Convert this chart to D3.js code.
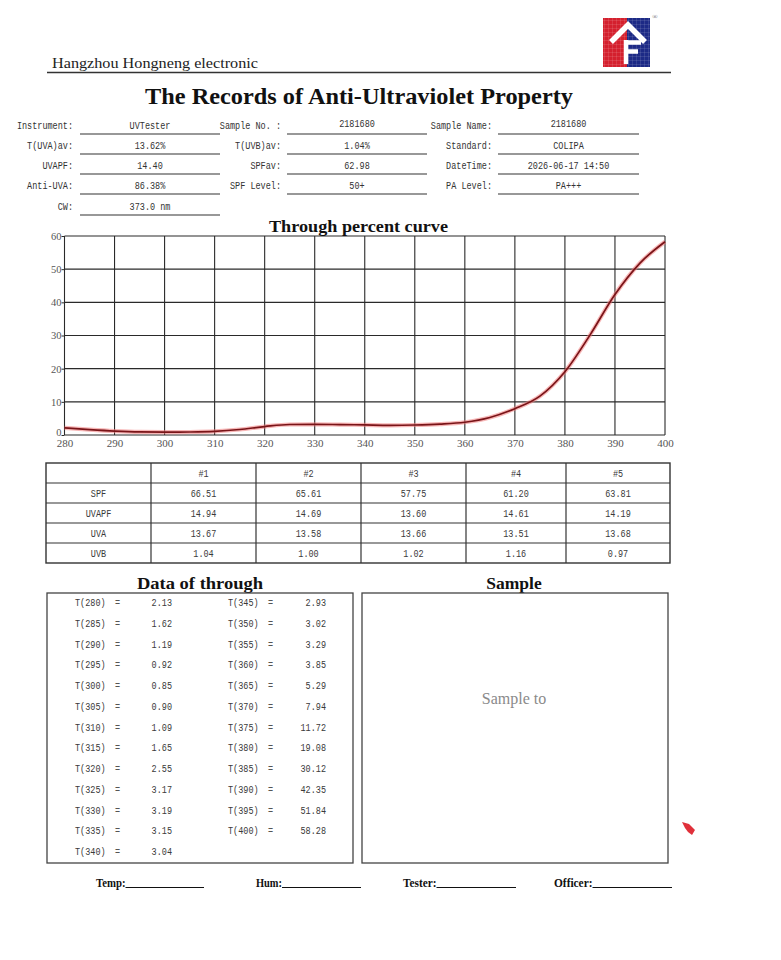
<!DOCTYPE html>
<html>
<head>
<meta charset="utf-8">
<script src="https://cdn.jsdelivr.net/npm/d3@7"></script>
<style>
  html, body { margin: 0; padding: 0; background: #fff; }
  svg { display: block; }
</style>
</head>
<body>
<svg id="page" width="781" height="960"></svg>
<script>
// ---------------- DATA ----------------
const companyName = "Hangzhou Hongneng electronic";
const reportTitle = "The Records of Anti-Ultraviolet Property";
const chartTitle = "Through percent curve";

const infoLabelsCol1 = ["Instrument:", "T(UVA)av:", "UVAPF:", "Anti-UVA:", "CW:"];
const infoValuesCol1 = ["UVTester", "13.62%", "14.40", "86.38%", "373.0 nm"];
const infoLabelsCol2 = ["Sample No. :", "T(UVB)av:", "SPFav:", "SPF Level:"];
const infoValuesCol2 = ["2181680", "1.04%", "62.98", "50+"];
const infoLabelsCol3 = ["Sample Name:", "Standard:", "DateTime:", "PA Level:"];
const infoValuesCol3 = ["2181680", "COLIPA", "2026-06-17 14:50", "PA+++"];

const wavelengths = [280, 285, 290, 295, 300, 305, 310, 315, 320, 325, 330, 335, 340,
                     345, 350, 355, 360, 365, 370, 375, 380, 385, 390, 395, 400];
const transmittance = [2.13, 1.62, 1.19, 0.92, 0.85, 0.90, 1.09, 1.65, 2.55, 3.17, 3.19, 3.15, 3.04,
                       2.93, 3.02, 3.29, 3.85, 5.29, 7.94, 11.72, 19.08, 30.12, 42.35, 51.84, 58.28];
const xTickValues = [280, 290, 300, 310, 320, 330, 340, 350, 360, 370, 380, 390, 400];
const yTickValues = [0, 10, 20, 30, 40, 50, 60];

const testRuns = ["#1", "#2", "#3", "#4", "#5"];
const metricNames = ["SPF", "UVAPF", "UVA", "UVB"];
const spfValues   = ["66.51", "65.61", "57.75", "61.20", "63.81"];
const uvapfValues = ["14.94", "14.69", "13.60", "14.61", "14.19"];
const uvaValues   = ["13.67", "13.58", "13.66", "13.51", "13.68"];
const uvbValues   = ["1.04", "1.00", "1.02", "1.16", "0.97"];

const footerLabels = ["Temp:", "Hum:", "Tester:", "Officer:"];

// ---------------- DRAWING ----------------
const svg = d3.select("#page");
const serif = "'Liberation Serif', 'Times New Roman', serif";
const mono = "'Liberation Mono', 'DejaVu Sans Mono', monospace";

function monoText(g, x, y, str, anchor, opts = {}) {
  const t = g.append("text")
    .attr("x", x).attr("y", y)
    .attr("font-family", mono)
    .attr("font-size", opts.size || 11)
    .attr("fill", opts.fill || "#333")
    .attr("text-anchor", anchor)
    .text(str);
  t.attr("textLength", str.length * (opts.adv || 5.1)).attr("lengthAdjust", "spacingAndGlyphs");
  return t;
}

// Header
svg.append("text").attr("x", 52).attr("y", 68)
  .attr("font-family", serif).attr("font-size", 15.5).attr("fill", "#222")
  .attr("textLength", 206).attr("lengthAdjust", "spacingAndGlyphs")
  .text(companyName);
svg.append("line").attr("x1", 47).attr("x2", 671).attr("y1", 72.5).attr("y2", 72.5)
  .attr("stroke", "#333").attr("stroke-width", 1.4);

// Logo
const logo = svg.append("g");
const defs = svg.append("defs");
const pat = defs.append("pattern").attr("id", "gridpat").attr("width", 4).attr("height", 4)
  .attr("patternUnits", "userSpaceOnUse");
pat.append("path").attr("d", "M4,0 L0,0 L0,4").attr("fill", "none")
  .attr("stroke", "rgba(255,255,255,0.35)").attr("stroke-width", 0.6);
logo.append("rect").attr("x", 603).attr("y", 18).attr("width", 24).attr("height", 49).attr("fill", "#d4202e");
logo.append("rect").attr("x", 627).attr("y", 18).attr("width", 23).attr("height", 49).attr("fill", "#1d2a86");
logo.append("rect").attr("x", 603).attr("y", 18).attr("width", 47).attr("height", 49).attr("fill", "url(#gridpat)");
logo.append("path").attr("d", "M611,42 L628,25 L645,42")
  .attr("fill", "none").attr("stroke", "#fff").attr("stroke-width", 5.5).attr("stroke-linejoin", "miter");
logo.append("path").attr("d", "M626,40 L626,64 M626,42.5 L641,42.5 M626,51.5 L638,51.5")
  .attr("fill", "none").attr("stroke", "#fff").attr("stroke-width", 4.5);
svg.append("text").attr("x", 655).attr("y", 19).attr("font-family", serif)
  .attr("font-size", 7).attr("fill", "#666").attr("text-anchor", "middle").text("®");

// Title
svg.append("text").attr("x", 359).attr("y", 104)
  .attr("font-family", serif).attr("font-weight", "bold").attr("font-size", 24).attr("fill", "#111")
  .attr("text-anchor", "middle").attr("textLength", 428).attr("lengthAdjust", "spacingAndGlyphs")
  .text(reportTitle);

// Info block
const infoG = svg.append("g");
const rowBase = [129, 149, 169, 189, 210];
const rowLine = [134, 154, 174, 194, 215];
const cols = [
  { labels: infoLabelsCol1, values: infoValuesCol1, labelRight: 73, lx1: 80, lx2: 220 },
  { labels: infoLabelsCol2, values: infoValuesCol2, labelRight: 281, lx1: 287, lx2: 427 },
  { labels: infoLabelsCol3, values: infoValuesCol3, labelRight: 492, lx1: 498, lx2: 639 }
];
cols.forEach((c, ci) => {
  c.labels.forEach((lab, i) => {
    monoText(infoG, c.labelRight, rowBase[i], lab, "end", { fill: "#333" });
    const vy = (i === 0 && ci > 0) ? rowBase[i] - 2.5 : rowBase[i];
    monoText(infoG, (c.lx1 + c.lx2) / 2, vy, c.values[i], "middle", { fill: "#333" });
    infoG.append("line").attr("x1", c.lx1).attr("x2", c.lx2)
      .attr("y1", rowLine[i]).attr("y2", rowLine[i])
      .attr("stroke", "#333").attr("stroke-width", 1.2);
  });
});

// Chart
const x = d3.scaleLinear().domain([280, 400]).range([64.5, 665]);
const y = d3.scaleLinear().domain([0, 60]).range([435, 236]);
const chart = svg.append("g");

svg.append("text").attr("x", 358.5).attr("y", 231.5)
  .attr("font-family", serif).attr("font-weight", "bold").attr("font-size", 17.5).attr("fill", "#111")
  .attr("text-anchor", "middle").attr("textLength", 179).attr("lengthAdjust", "spacingAndGlyphs")
  .text(chartTitle);

// grid
chart.append("g").selectAll("line.v").data(xTickValues).join("line")
  .attr("x1", d => x(d)).attr("x2", d => x(d)).attr("y1", y(60)).attr("y2", y(0))
  .attr("stroke", "#2a2a2a").attr("stroke-width", 1.1);
chart.append("g").selectAll("line.h").data(yTickValues).join("line")
  .attr("x1", x(280)).attr("x2", x(400)).attr("y1", d => y(d)).attr("y2", d => y(d))
  .attr("stroke", "#2a2a2a").attr("stroke-width", 1.1);

// axes labels
const xAxis = d3.axisBottom(x).tickValues(xTickValues).tickSize(0).tickPadding(4).tickFormat(d3.format("d"));
const xg = chart.append("g").attr("transform", `translate(0,${y(0)})`).call(xAxis);
xg.select(".domain").remove();
xg.selectAll("text").attr("font-family", serif).attr("font-size", 11).attr("fill", "#555");

const yAxis = d3.axisLeft(y).tickValues(yTickValues).tickSize(3).tickPadding(0).tickFormat(d3.format("d"));
const yg = chart.append("g").attr("transform", `translate(${x(280)},0)`).call(yAxis);
yg.select(".domain").remove();
yg.selectAll("line").attr("stroke", "#2a2a2a");
yg.selectAll("text").attr("font-family", serif).attr("font-size", 10.5).attr("fill", "#555");
yg.selectAll(".tick").filter(d => d === 0).select("text").attr("dy", "0.05em");

// curve
const pts = wavelengths.map((w, i) => [w, transmittance[i]]);
const line = d3.line().x(d => x(d[0])).y(d => y(d[1])).curve(d3.curveMonotoneX);
chart.append("path").datum(pts).attr("d", line)
  .attr("fill", "none").attr("stroke", "#f07a7a").attr("stroke-opacity", 0.55).attr("stroke-width", 4.2);
chart.append("path").datum(pts).attr("d", line)
  .attr("fill", "none").attr("stroke", "#7a1418").attr("stroke-width", 1.7);

// Results table
const tbl = svg.append("g");
const tx = [46, 151, 256, 361, 466, 566, 670];
const ty = [463, 483, 503, 523, 543, 563];
const rowsData = [spfValues, uvapfValues, uvaValues, uvbValues];
tbl.append("rect").attr("x", tx[0]).attr("y", ty[0]).attr("width", tx[6] - tx[0]).attr("height", ty[5] - ty[0])
  .attr("fill", "none").attr("stroke", "#333").attr("stroke-width", 1.4);
tx.slice(1, 6).forEach(v => tbl.append("line").attr("x1", v).attr("x2", v).attr("y1", ty[0]).attr("y2", ty[5])
  .attr("stroke", "#333").attr("stroke-width", 1.2));
ty.slice(1, 5).forEach(v => tbl.append("line").attr("x1", tx[0]).attr("x2", tx[6]).attr("y1", v).attr("y2", v)
  .attr("stroke", "#333").attr("stroke-width", 1.2));
testRuns.forEach((r, i) => monoText(tbl, (tx[i + 1] + tx[i + 2]) / 2, ty[0] + 14, r, "middle", { fill: "#3a3a3a" }));
metricNames.forEach((m, ri) => {
  monoText(tbl, (tx[0] + tx[1]) / 2, ty[ri + 1] + 14, m, "middle", { fill: "#3a3a3a" });
  rowsData[ri].forEach((v, ci) =>
    monoText(tbl, (tx[ci + 1] + tx[ci + 2]) / 2, ty[ri + 1] + 14, v, "middle", { fill: "#3a3a3a" }));
});

// Data of through
svg.append("text").attr("x", 200).attr("y", 588.5)
  .attr("font-family", serif).attr("font-weight", "bold").attr("font-size", 17.5).attr("fill", "#111")
  .attr("text-anchor", "middle").attr("textLength", 126).attr("lengthAdjust", "spacingAndGlyphs")
  .text("Data of through");
svg.append("rect").attr("x", 47).attr("y", 593).attr("width", 306).attr("height", 270)
  .attr("fill", "none").attr("stroke", "#444").attr("stroke-width", 1.3);
const dG = svg.append("g");
wavelengths.forEach((w, i) => {
  const col = i < 13 ? 0 : 1;
  const row = i < 13 ? i : i - 13;
  const yy = 606 + row * 20.75;
  const lx = col === 0 ? 75 : 228;
  const ex = col === 0 ? 115 : 268;
  const vx = col === 0 ? 172 : 326;
  monoText(dG, lx, yy, `T(${w})`, "start", { fill: "#3a3a3a" });
  monoText(dG, ex, yy, "=", "start", { fill: "#555" });
  monoText(dG, vx, yy, transmittance[i].toFixed(2), "end", { fill: "#3a3a3a" });
});

// Sample
svg.append("text").attr("x", 514).attr("y", 588.5)
  .attr("font-family", serif).attr("font-weight", "bold").attr("font-size", 17.5).attr("fill", "#111")
  .attr("text-anchor", "middle").text("Sample");
svg.append("rect").attr("x", 362).attr("y", 593).attr("width", 306).attr("height", 270)
  .attr("fill", "none").attr("stroke", "#444").attr("stroke-width", 1.3);
svg.append("text").attr("x", 514).attr("y", 704)
  .attr("font-family", serif).attr("font-size", 16).attr("fill", "#8a8a8a")
  .attr("text-anchor", "middle").text("Sample to");

// red pointer mark
svg.append("path").attr("d", "M682,822 L689,824 L695,830 L692,835 L688,832 L685,828 Z")
  .attr("fill", "#e0303a");

// Footer
const footX = [96, 256, 403, 554];
const footW = [29.5, 26, 33.5, 38.5];
const footEnd = [204, 361, 516, 672];
footerLabels.forEach((f, i) => {
  svg.append("text").attr("x", footX[i]).attr("y", 887)
    .attr("font-family", serif).attr("font-weight", "bold").attr("font-size", 13).attr("fill", "#111")
    .attr("textLength", footW[i]).attr("lengthAdjust", "spacingAndGlyphs")
    .text(f);
  svg.append("line").attr("x1", footX[i] + footW[i]).attr("x2", footEnd[i]).attr("y1", 887.5).attr("y2", 887.5)
    .attr("stroke", "#111").attr("stroke-width", 1);
});
</script>
</body>
</html>
